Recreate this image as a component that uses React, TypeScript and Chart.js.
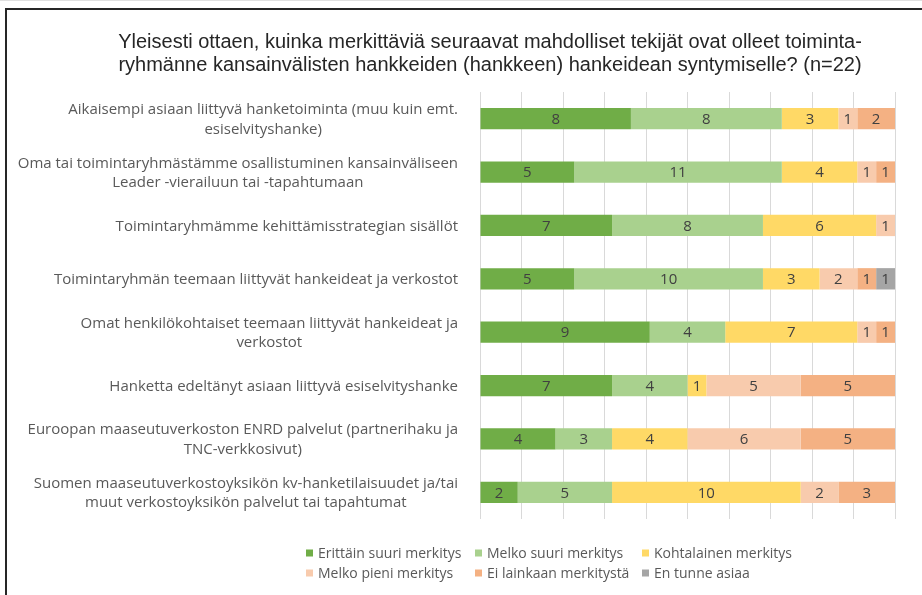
import React, { useEffect, useRef } from "react";
import { Chart, registerables } from "chart.js";

Chart.register(...registerables);

const titleLines = [
  "Yleisesti ottaen, kuinka merkittäviä seuraavat mahdolliset tekijät ovat olleet toiminta-",
  "ryhmänne kansainvälisten hankkeiden (hankkeen) hankeidean syntymiselle? (n=22)",
];

const categories: string[][] = [
  ["Aikaisempi asiaan liittyvä hanketoiminta (muu kuin emt.", "esiselvityshanke)"],
  ["Oma tai toimintaryhmästämme osallistuminen kansainväliseen", "Leader -vierailuun tai -tapahtumaan"],
  ["Toimintaryhmämme kehittämisstrategian sisällöt"],
  ["Toimintaryhmän teemaan liittyvät hankeideat ja verkostot"],
  ["Omat henkilökohtaiset teemaan liittyvät hankeideat ja", "verkostot"],
  ["Hanketta edeltänyt asiaan liittyvä esiselvityshanke"],
  ["Euroopan maaseutuverkoston ENRD palvelut (partnerihaku ja", "TNC-verkkosivut)"],
  ["Suomen maaseutuverkostoyksikön kv-hanketilaisuudet ja/tai", "muut verkostoyksikön palvelut tai tapahtumat"],
];

const seriesNames = [
  "Erittäin suuri merkitys",
  "Melko suuri merkitys",
  "Kohtalainen merkitys",
  "Melko pieni merkitys",
  "Ei lainkaan merkitystä",
  "En tunne asiaa",
];

const erittainSuuri = [8, 5, 7, 5, 9, 7, 4, 2];
const melkoSuuri = [8, 11, 8, 10, 4, 4, 3, 5];
const kohtalainen = [3, 4, 6, 3, 7, 1, 4, 10];
const melkoPieni = [1, 1, 1, 2, 1, 5, 6, 2];
const eiLainkaan = [2, 1, 0, 1, 1, 5, 5, 3];
const enTunne = [0, 0, 0, 1, 0, 0, 0, 0];

const seriesColors = ["#70AD47", "#A9D18E", "#FFD966", "#F8CBAD", "#F4B183", "#A5A5A5"];

const respondents = 22;

const FONT = "'Open Sans', 'DejaVu Sans', sans-serif";
const TITLE_FONT = "'Liberation Sans', Arial, sans-serif";
const TEXT = "#595959";

const customDraw = {
  id: "customDraw",
  afterDatasetsDraw(chart: any) {
    const ctx = chart.ctx;
    ctx.save();
    ctx.font = `15px ${FONT}`;
    ctx.fillStyle = "#404040";
    ctx.textAlign = "center";
    ctx.textBaseline = "middle";
    chart.data.datasets.forEach((ds: any, di: number) => {
      const meta = chart.getDatasetMeta(di);
      meta.data.forEach((el: any, i: number) => {
        const v = ds.data[i];
        if (!v) return;
        const cx = (el.x + el.base) / 2;
        ctx.fillText(String(v), cx, el.y + 1);
      });
    });
    ctx.restore();
  },
  afterDraw(chart: any) {
    const ctx = chart.ctx;
    ctx.save();
    ctx.font = `20px ${TITLE_FONT}`;
    ctx.fillStyle = "#262626";
    ctx.textAlign = "center";
    ctx.textBaseline = "middle";
    titleLines.forEach((t, i) => ctx.fillText(t, 490, 42 + i * 23));

    const yScale = chart.scales.y;
    ctx.font = `15px ${FONT}`;
    ctx.fillStyle = TEXT;
    const rightEdge = 458;
    const lh = 19.5;
    categories.forEach((lines, i) => {
      const cy = yScale.getPixelForValue(i);
      const maxW = Math.max(...lines.map((l) => ctx.measureText(l).width));
      const cx = rightEdge - maxW / 2;
      const start = cy - ((lines.length - 1) * lh) / 2;
      lines.forEach((l, j) => ctx.fillText(l, cx, start + j * lh + 1));
    });

    const colX = [306, 475, 642];
    const rowY = [553, 573];
    ctx.font = `14px ${FONT}`;
    ctx.textAlign = "left";
    chart.data.datasets.forEach((ds: any, di: number) => {
      const x = colX[di % 3];
      const y = rowY[Math.floor(di / 3)];
      ctx.fillStyle = ds.backgroundColor;
      ctx.fillRect(x, y - 3.5, 7, 7);
      ctx.fillStyle = TEXT;
      ctx.fillText(ds.label, x + 12, y + 1);
    });
    ctx.restore();
  },
};

export default function App() {
  const ref = useRef<HTMLCanvasElement | null>(null);
  useEffect(() => {
    if (!ref.current) return;
    const series = [erittainSuuri, melkoSuuri, kohtalainen, melkoPieni, eiLainkaan, enTunne];
    const chart = new Chart(ref.current, {
      type: "bar",
      data: {
        labels: categories.map((c) => c.join(" ")),
        datasets: series.map((d, i) => ({
          label: seriesNames[i],
          data: d,
          backgroundColor: seriesColors[i],
          borderWidth: 0,
          categoryPercentage: 1,
          barPercentage: 0.4,
        })),
      },
      options: {
        indexAxis: "y",
        responsive: false,
        animation: false,
        layout: { padding: { left: 480, right: 27, top: 92, bottom: 76 } },
        plugins: {
          legend: { display: false },
          title: { display: false },
          tooltip: { enabled: false },
        },
        scales: {
          x: {
            stacked: true,
            min: 0,
            max: respondents,
            afterBuildTicks: (scale: any) => {
              scale.ticks = Array.from({ length: 11 }, (_, i) => ({ value: (respondents * i) / 10 }));
            },
            ticks: { display: false },
            grid: { color: "#D9D9D9", lineWidth: 1, drawTicks: false },
            border: { display: false },
          },
          y: {
            stacked: true,
            ticks: { display: false },
            grid: { display: false, drawTicks: false },
            border: { display: false },
          },
        },
      },
      plugins: [customDraw],
    });
    return () => chart.destroy();
  }, []);

  return (
    <div style={{ position: "fixed", left: 0, top: 0, width: 922, height: 595, background: "#fff", overflow: "hidden" }}>
      <div style={{ position: "absolute", left: 0, top: 0, width: 922, height: 1, background: "#E0E0E0" }} />
      <div
        style={{
          position: "absolute",
          left: 5,
          top: 8,
          width: 2000,
          height: 2000,
          borderLeft: "2px solid #262626",
          borderTop: "2px solid #262626",
        }}
      />
      <canvas ref={ref} width={922} height={595} style={{ position: "absolute", left: 0, top: 0 }} />
    </div>
  );
}
